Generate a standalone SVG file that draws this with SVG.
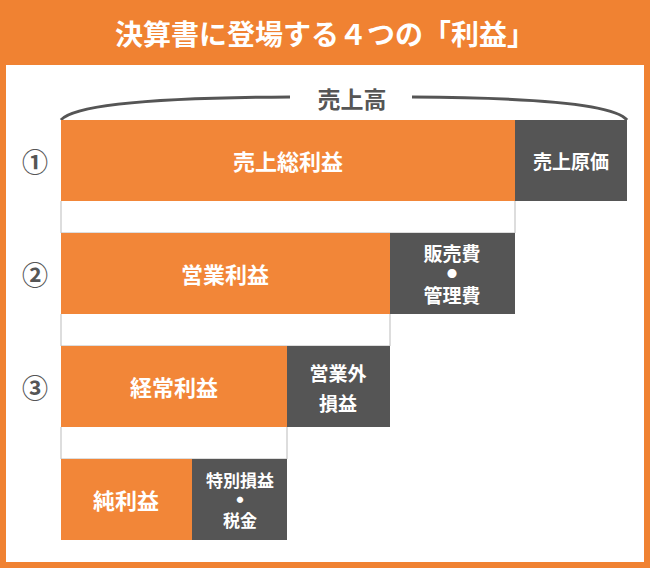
<svg xmlns="http://www.w3.org/2000/svg" width="650" height="568" viewBox="0 0 650 568">
<style>
text{font-family:"Noto Sans CJK JP","Noto Sans",sans-serif;font-weight:bold;text-anchor:middle;dominant-baseline:central}
.o{fill:#F28638}.g{fill:#555555}.w{fill:#fff;font-size:22px}.ws{fill:#fff;font-size:19px}.d{fill:#fff;font-size:10px}
.n{fill:#555;font-size:26px}.ln{fill:none;stroke:#bbb;stroke-width:1}
</style>
<rect width="650" height="568" fill="#F08232"/>
<rect x="6" y="65" width="638" height="497" fill="#fff"/>
<text x="325" y="33" fill="#fff" style="font-size:28px">決算書に登場する４つの「利益」</text>
<g id="connectors">
<path class="ln" d="M61 201V233M515 201V233M61 314V346M390 314V346M61 427V459M287 427V459M61 233H515M61 346H390M61 459H287"/>
<path d="M61 120Q80 98 290 97M412 97Q610 98 627 120" fill="none" stroke="#555" stroke-width="3"/>
<text x="352" y="98" fill="#555" style="font-size:23px">売上高</text>
</g>
<g id="row1"><text class="n" x="35" y="160">①</text>
<rect class="o" x="61" y="120" width="454" height="81"/><text class="w" x="288" y="160">売上総利益</text>
<rect class="g" x="515" y="120" width="112" height="81"/><text class="ws" x="571" y="160">売上原価</text></g>
<g id="row2"><text class="n" x="35" y="273">②</text>
<rect class="o" x="61" y="233" width="329" height="81"/><text class="w" x="225" y="273">営業利益</text>
<rect class="g" x="390" y="233" width="125" height="81"/><text class="ws" x="452" y="252">販売費</text><text class="d" x="452" y="273">●</text><text class="ws" x="452" y="294">管理費</text></g>
<g id="row3"><text class="n" x="35" y="386">③</text>
<rect class="o" x="61" y="346" width="226" height="81"/><text class="w" x="174" y="386">経常利益</text>
<rect class="g" x="287" y="346" width="103" height="81"/><text class="ws" x="338" y="372">営業外</text><text class="ws" x="338" y="402">損益</text></g>
<g id="row4">
<rect class="o" x="61" y="459" width="131" height="81"/><text class="w" x="126" y="499">純利益</text>
<rect class="g" x="192" y="459" width="95" height="81"/><text class="ws" style="font-size:17px" x="240" y="479">特別損益</text><text class="d" style="font-size:7px" x="240" y="499">●</text><text class="ws" style="font-size:17px" x="240" y="519">税金</text></g>
</svg>
